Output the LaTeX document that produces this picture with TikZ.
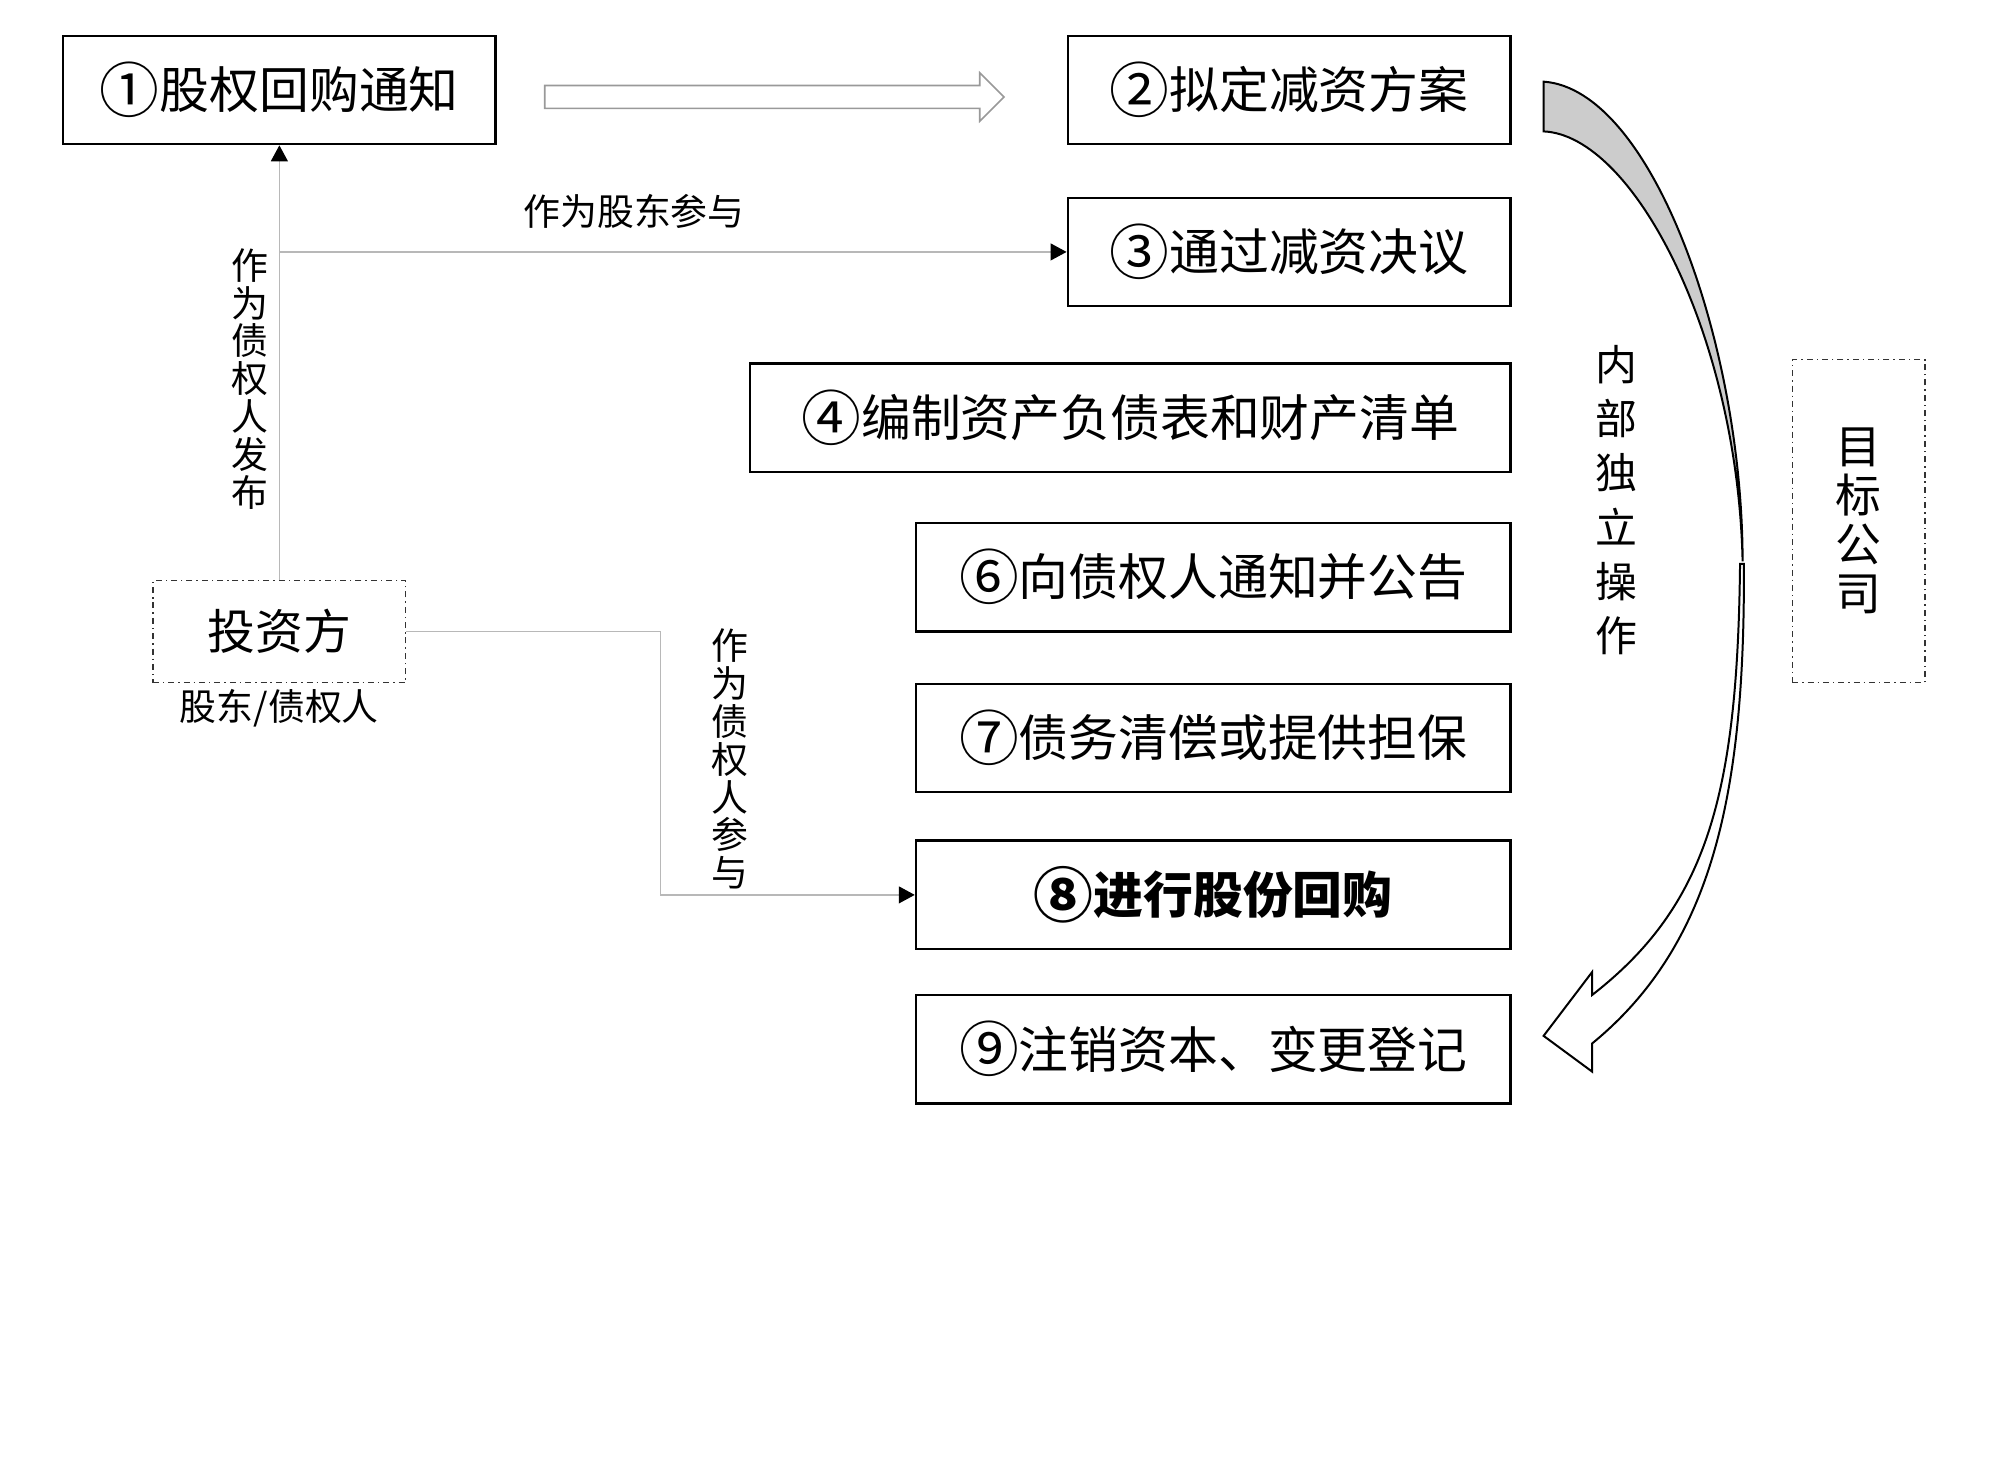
\documentclass[tikz,border=0pt]{standalone}
\usepackage{fontspec}
\usepackage{graphicx}
\setmainfont{Noto Sans CJK SC}
\usetikzlibrary{arrows.meta}
\newcommand{\cnum}[1]{\raisebox{-0.08em}{\scalebox{1.2}{#1}}}
\begin{document}
\begin{tikzpicture}[x=0.64pt,y=-0.64pt,
  box/.style={draw=black,line width=1.2pt,fill=white,inner sep=0pt,minimum height=54.4pt,font=\fontsize{25}{30}\selectfont},
  dbox/.style={draw=black!80,line width=0.7pt,dash dot,inner sep=0pt},
  conn/.style={draw=black!28,line width=0.6pt,-{Triangle[length=8pt,width=8.5pt,color=black]}},
  lbl/.style={font=\fontsize{18.5}{19}\selectfont,inner sep=0pt},
  vlbl/.style={font=\fontsize{18.5}{19}\selectfont,align=center,inner sep=0pt}
]
\useasboundingbox (0,0) rectangle (1567,1162);

% boxes
\node[box,minimum width=216.96pt] (b1) at (219,70.5) {\cnum{①}股权回购通知};
\node[box,minimum width=222.08pt] (b2) at (1010.5,70.5) {\cnum{②}拟定减资方案};
\node[box,minimum width=222.08pt] (b3) at (1010.5,197.5) {\cnum{③}通过减资决议};
\node[box,minimum width=381.44pt] (b4) at (886,327.5) {\cnum{④}编制资产负债表和财产清单};
\node[box,minimum width=298.24pt] (b6) at (951,452.5) {\cnum{⑥}向债权人通知并公告};
\node[box,minimum width=298.24pt] (b7) at (951,578.5) {\cnum{⑦}债务清偿或提供担保};
\node[box,minimum width=298.24pt] (b8) at (951,701.5) {\bfseries \cnum{⑧}进行股份回购};
\node[box,minimum width=298.24pt] (b9) at (951,822.5) {\cnum{⑨}注销资本、变更登记};

\node[dbox,minimum width=126.72pt,minimum height=51.2pt,font=\fontsize{24}{28}\selectfont] (inv) at (219,495) {投资方};
\node[lbl] (invlbl) at (219,555) {股东/债权人};
\node[dbox,minimum width=66.56pt,minimum height=161.92pt,align=center,font=\fontsize{23}{24.6}\selectfont] (tgt) at (1457,408.5) {目\\标\\公\\司};

% hollow arrow between 1 and 2
\draw[draw=black!40,line width=0.8pt,fill=white,line join=miter]
  (427,67) -- (768,67) -- (768,57) -- (787,76) -- (768,95) -- (768,85) -- (427,85) -- cycle;

% connectors
\coordinate (bend) at (518,494);
\draw[conn] (inv.north) -- (b1.south);
\draw[conn] (inv.north |- b3.west) -- (b3.west);
\draw[conn] (inv.east) -- (inv.east -| bend) -- (bend |- b8.west) -- (b8.west);

% labels
\node[lbl] (l1) at (497,166) {作为股东参与};
\node[vlbl] (l2) at (196,297) {作\\为\\债\\权\\人\\发\\布};
\node[vlbl] (l3) at (572,595) {作\\为\\债\\权\\人\\参\\与};
\node[align=center,inner sep=0pt,font=\fontsize{21}{27.2}\selectfont] (l4) at (1267,392) {内\\部\\独\\立\\操\\作};

% curved arrow
\filldraw[fill=black!20,draw=black,line width=1pt,line join=miter]
  (1210,64) .. controls (1295,70) and (1366,270) .. (1366,440)
  .. controls (1362,262) and (1280,106) .. (1210,103) -- cycle;
\filldraw[fill=white,draw=black,line width=1pt,line join=miter]
  (1367,442) .. controls (1368,624) and (1342,741) .. (1248,818)
  -- (1248,840) -- (1210,812) -- (1248,762) -- (1248,780)
  .. controls (1338,710) and (1362,624) .. (1364,442) -- cycle;
\end{tikzpicture}
\end{document}
